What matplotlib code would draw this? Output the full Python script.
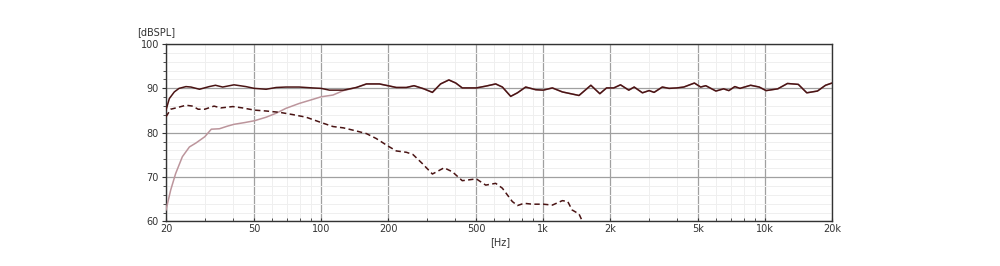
import numpy as np
import matplotlib
matplotlib.use("Agg")
import matplotlib.pyplot as plt
from matplotlib.ticker import FixedLocator, NullFormatter

# ---- data ----
freq_total = [20, 20.7, 21.8, 22.9, 24.6, 25.9, 28.3, 31.3, 33.4, 36, 40.5, 45.8, 50,
              56.5, 62.7, 69.4, 79.6, 91.6, 100, 109, 126, 144, 160, 183, 200, 218,
              242, 262, 290, 317, 345, 376, 404, 432, 500, 551, 611, 655, 714, 766,
              834, 926, 1000, 1100, 1220, 1330, 1450, 1640, 1800, 1930, 2080, 2230,
              2430, 2570, 2800, 3000, 3160, 3440, 3690, 4000, 4300, 4800, 5120, 5400,
              6000, 6500, 6860, 7300, 7700, 8600, 9400, 10100, 11400, 12600, 14100,
              15400, 17200, 18700, 20000]
spl_total = [85.1, 87.7, 89.2, 90.0, 90.4, 90.3, 89.8, 90.4, 90.7, 90.3, 90.8, 90.4, 90.0,
             89.8, 90.2, 90.3, 90.3, 90.1, 90.0, 89.6, 89.6, 90.2, 91.0, 91.0, 90.6, 90.2,
             90.2, 90.6, 89.9, 89.1, 91.0, 91.9, 91.2, 90.1, 90.1, 90.5, 91.0, 90.3, 88.2, 89.0,
             90.3, 89.7, 89.6, 90.1, 89.2, 88.8, 88.4, 90.7, 88.8, 90.1, 90.1, 90.8,
             89.6, 90.3, 89.0, 89.5, 89.1, 90.3, 90.0, 90.1, 90.3, 91.2, 90.3, 90.6,
             89.4, 89.9, 89.5, 90.4, 90.0, 90.7, 90.3, 89.5, 89.9, 91.1, 90.9,
             89.0, 89.4, 90.7, 91.2]

freq_high_low = [20, 21, 22.1, 23.7, 25.5, 27.3, 29.9, 32.0, 34.8, 37.9, 40.5, 45.3, 50,
                 56.5, 62.7, 69.4, 79.6, 90, 100, 113, 126, 139]
spl_high_low = [62.6, 67.1, 70.8, 74.6, 76.8, 77.7, 79.1, 80.8, 80.9, 81.5, 81.9, 82.3, 82.7,
                83.5, 84.4, 85.5, 86.6, 87.4, 88.1, 88.5, 89.5, 90.0]

freq_low = [20, 21, 22.6, 24.6, 26.4, 27.9, 29.9, 32.9, 35.3, 40, 44.2, 50, 56.5, 65,
            74.3, 85.6, 100, 113, 126, 144, 160, 177, 200, 218, 242, 259, 285, 317,
            358, 390, 432, 500, 551, 611, 655, 726, 766, 820, 895, 1000, 1100, 1220,
            1290, 1350, 1450, 1500]
spl_low = [83.6, 85.3, 85.7, 86.2, 86.0, 85.3, 85.3, 86.0, 85.6, 85.9, 85.6, 85.1, 84.9, 84.6,
           84.1, 83.5, 82.3, 81.4, 81.1, 80.4, 79.8, 78.7, 77.0, 75.9, 75.6, 75.1, 73.1, 70.7,
           72.1, 71.2, 69.2, 69.6, 68.2, 68.6, 67.5, 64.5, 63.6, 64.1, 63.9, 63.9, 63.7, 64.7,
           64.5, 62.6, 61.7, 60.1]

x_ticks = [20, 50, 100, 200, 500, 1000, 2000, 5000, 10000, 20000]
x_labels = ["20", "50", "100", "200", "500", "1k", "2k", "5k", "10k", "20k"]
y_ticks = [60, 70, 80, 90, 100]

# pink curve merges into the total above ~140 Hz
freq_high = freq_high_low + [f for f in freq_total if f > 140]
spl_high = spl_high_low + [s for f, s in zip(freq_total, spl_total) if f > 140]

# ---- figure ----
fig = plt.figure(figsize=(10, 2.66), dpi=100)
ax = fig.add_axes([0.166, 0.1673, 0.666, 0.6673])

ax.set_xscale("log")
ax.set_xlim(20, 20000)
ax.set_ylim(60, 100)

minor_x = []
for dec in [10, 100, 1000, 10000]:
    for m in range(2, 10):
        v = dec * m
        if 20 < v < 20000 and v not in x_ticks:
            minor_x.append(v)
ax.xaxis.set_major_locator(FixedLocator(x_ticks))
ax.xaxis.set_minor_locator(FixedLocator(minor_x))
ax.set_xticklabels(x_labels)
ax.xaxis.set_minor_formatter(NullFormatter())
ax.yaxis.set_major_locator(FixedLocator(y_ticks))
ax.yaxis.set_minor_locator(FixedLocator([v for v in range(60, 101, 2) if v % 10]))

ax.grid(which="minor", color="#efefef", lw=0.7)
ax.grid(which="major", color="#a0a0a0", lw=0.9)
ax.set_axisbelow(True)

for s in ax.spines.values():
    s.set_color("#333333")
    s.set_linewidth(1.0)

ax.tick_params(axis="both", which="major", labelsize=7, colors="#333333",
               length=3, width=0.8, pad=2)
ax.tick_params(axis="y", which="minor", length=2, width=0.6, color="#333333")
ax.tick_params(axis="x", which="minor", length=2, width=0.6, color="#333333", direction="in")
ax.tick_params(axis="x", which="major", direction="in", length=2)

ax.plot(freq_high, spl_high, color="#bc959c", lw=1.1, solid_joinstyle="round", zorder=3)
ax.plot(freq_total, spl_total, color="#4a1414", lw=1.1, solid_joinstyle="round", zorder=4)
ax.plot(freq_low, spl_low, color="#4a1414", lw=1.1, ls=(0, (3.5, 2.2)), zorder=4)

fig.text(0.137, 1 - 32 / 266, "[dBSPL]", fontsize=7, color="#333333",
         ha="left", va="center")
fig.text(0.5, 1 - 242 / 266, "[Hz]", fontsize=7, color="#333333",
         ha="center", va="center")

fig.savefig("out.png", dpi=100)
